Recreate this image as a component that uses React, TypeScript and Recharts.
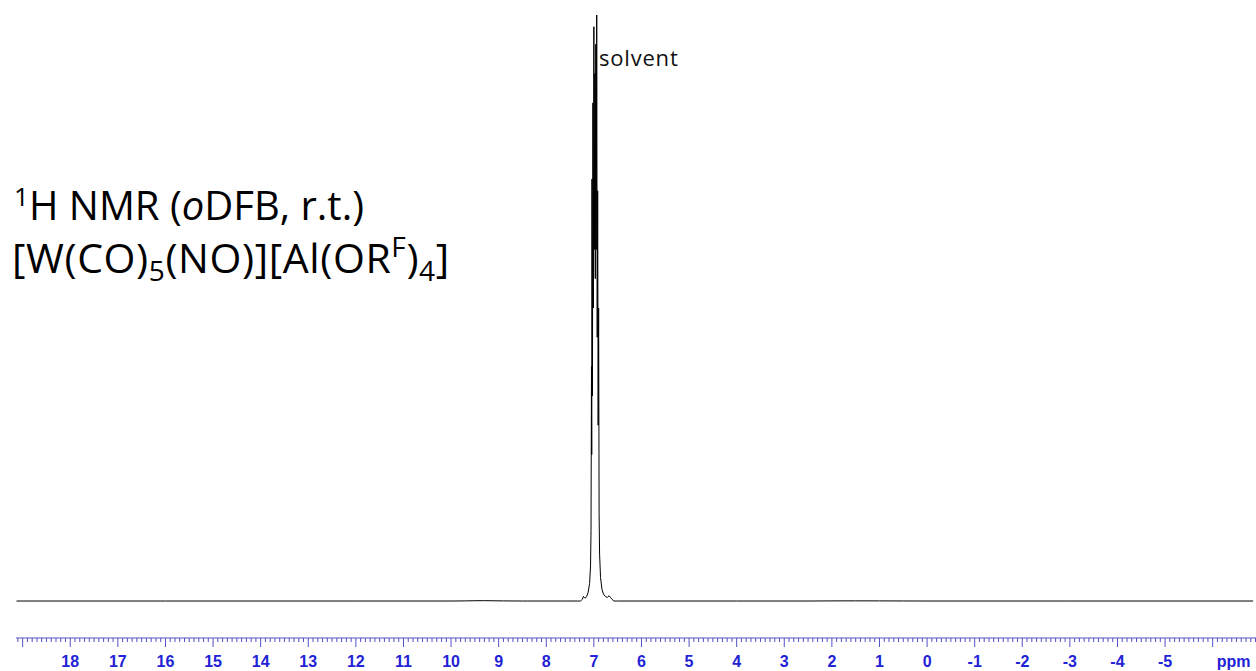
import React from "react";
import { LineChart, Line, XAxis, YAxis } from "recharts";

// 1H spectrum, oDFB solvent multiplet near 7 ppm
const baselineLeftPpm = [19.13, 16.0, 12.0, 10.0, 9.7, 9.5, 9.3, 9.1, 8.9, 8.5, 7.6, 7.35];
const baselineLeftInt = [0, 0, 0, 0, 0.02, 0.05, 0.06, 0.04, 0.02, 0, 0, 0];

const peakPpm = [
  7.28, 7.24, 7.22, 7.2, 7.18, 7.15, 7.12, 7.09, 7.07, 7.06, 7.05, 7.045, 7.04, 7.03, 7.02,
  7.01, 7.0, 6.99, 6.98, 6.97, 6.96, 6.95, 6.94, 6.93, 6.92, 6.91, 6.9, 6.89, 6.88, 6.86,
  6.83, 6.8, 6.76, 6.72, 6.68, 6.65, 6.62, 6.58,
];
const peakInt = [
  0, 0.3, 0.8, 0.6, 0.5, 0.8, 1.5, 3, 6, 12, 40, 25, 72, 35, 85,
  50, 98, 60, 90, 55, 95, 60, 100, 45, 70, 30, 50, 15, 8, 4,
  2, 1.2, 0.8, 0.6, 0.9, 0.6, 0.3, 0,
];

const baselineRightPpm = [6.5, 4.0, 2.5, 2.0, 1.5, 1.0, 0.5, 0.0, -3.0, -6.85];
const baselineRightInt = [0, 0, 0, 0.02, 0.03, 0.02, 0.01, 0, 0, 0];

// integer ppm labels along the axis
const majorTicks = [19, 18, 17, 16, 15, 14, 13, 12, 11, 10, 9, 8, 7, 6, 5, 4, 3, 2, 1, 0, -1, -2, -3, -4, -5, -6];
const tickLabels: Record<number, string> = {
  18: "18", 17: "17", 16: "16", 15: "15", 14: "14", 13: "13", 12: "12", 11: "11", 10: "10",
  9: "9", 8: "8", 7: "7", 6: "6", 5: "5", 4: "4", 3: "3", 2: "2", 1: "1", 0: "0",
  [-1]: "-1", [-2]: "-2", [-3]: "-3", [-4]: "-4", [-5]: "-5",
};

const spectrum = [
  ...baselineLeftPpm.map((p, i) => ({ ppm: p, v: baselineLeftInt[i] })),
  ...peakPpm.map((p, i) => ({ ppm: p, v: peakInt[i] })),
  ...baselineRightPpm.map((p, i) => ({ ppm: p, v: baselineRightInt[i] })),
];

// minor ticks every 0.1 ppm
const axisTicks: number[] = [];
for (let i = -69; i <= 191; i++) axisTicks.push(i / 10);

const AXIS_BLUE = "#5252c8";
const LABEL_BLUE = "#2222d6";
const LABEL_FONT = "'Liberation Sans', Arial, sans-serif";

function AxisTick(props: any) {
  const { x, y, payload } = props;
  const v = payload.value as number;
  const r = Math.round(v);
  const major = Math.abs(v - r) < 1e-6 && majorTicks.includes(r);
  const label = major ? tickLabels[r] : undefined;
  return (
    <g>
      <line x1={x} x2={x} y1={y} y2={y + (major ? 9 : 4)} stroke={AXIS_BLUE} strokeWidth={1} />
      {label !== undefined && (
        <text x={x} y={y + 29} textAnchor="middle" fill={LABEL_BLUE} fontFamily={LABEL_FONT} fontWeight="bold" fontSize={16}>
          {label}
        </text>
      )}
      {major && r === -6 && (
        <text x={x + 21} y={y + 29} textAnchor="middle" fill={LABEL_BLUE} fontFamily={LABEL_FONT} fontWeight="bold" fontSize={16}>
          ppm
        </text>
      )}
    </g>
  );
}

export default function App() {
  return (
    <div style={{ position: "absolute", left: 0, top: 0, width: 1256, height: 671, background: "#fff" }}>
      <LineChart width={1256} height={671} data={spectrum} margin={{ top: 15, right: 0, left: 16, bottom: 0 }}>
        <XAxis
          type="number"
          dataKey="ppm"
          domain={[-6.91, 19.14]}
          reversed
          allowDataOverflow
          ticks={axisTicks}
          interval={0}
          tickSize={0}
          tickMargin={0}
          tick={<AxisTick />}
          axisLine={{ stroke: AXIS_BLUE, strokeWidth: 1 }}
          tickLine={false}
          height={33}
        />
        <YAxis type="number" domain={[-6.31, 100]} allowDataOverflow hide />
        <Line type="linear" dataKey="v" stroke="#000" strokeWidth={1} dot={false} isAnimationActive={false} />
      </LineChart>
      <svg
        width={1256}
        height={671}
        style={{ position: "absolute", left: 0, top: 0, pointerEvents: "none" }}
        fontFamily="'Open Sans', sans-serif"
      >
        <text x={599} y={66} fontSize={22} letterSpacing={0.8} fill="#111">
          solvent
        </text>
        <text x={14} y={220} fontSize={40} fill="#000">
          <tspan fontSize={26} dy={-14}>1</tspan>
          <tspan dy={14}>H NMR (</tspan>
          <tspan fontStyle="italic">o</tspan>
          <tspan>DFB, r.t.)</tspan>
        </text>
        <text x={12} y={273} fontSize={41} letterSpacing={0.6} fill="#000">
          <tspan>[W(CO)</tspan>
          <tspan fontSize={28} dy={8}>5</tspan>
          <tspan dy={-8}>(NO)][Al(OR</tspan>
          <tspan fontSize={28} dy={-16}>F</tspan>
          <tspan dy={16}>)</tspan>
          <tspan fontSize={28} dy={8}>4</tspan>
          <tspan dy={-8}>]</tspan>
        </text>
      </svg>
    </div>
  );
}
